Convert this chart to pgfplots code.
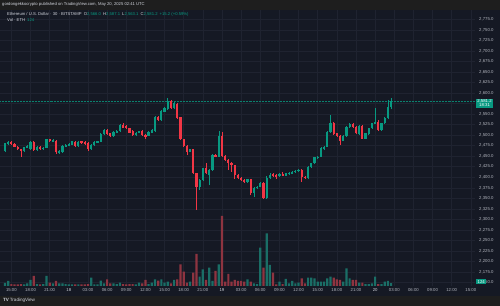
\documentclass[border=0pt]{standalone}
\usepackage{pgfplots}
\pgfplotsset{compat=1.18}
\usepackage{pgfplotstable}
\usepackage{fontspec}
\setmainfont{Liberation Sans}

\definecolor{bg}{HTML}{151924}
\definecolor{gridc}{HTML}{1F2330}
\definecolor{up}{HTML}{089981}
\definecolor{dn}{HTML}{F23645}
\definecolor{upv}{HTML}{1A6E66}
\definecolor{dnv}{HTML}{8E3440}
\definecolor{axtxt}{HTML}{B2B5BE}
\definecolor{lgtxt}{HTML}{D1D4DC}
\definecolor{strip}{HTML}{1E1E1E}

% ETH/USD 30-minute candles: index, open, high, low, close, volume (ETH)
\pgfplotstableread{
i o h l c v
0 2463 2482 2460 2481 135
1 2479 2485 2477 2483 225
6 2462 2472 2460 2471 77
7 2471 2476 2469 2474 122
8 2467 2486 2464 2484 270
10 2465 2475 2463 2473 90
12 2467 2472 2465 2470 90
13 2470 2492 2469 2490 450
15 2485 2490 2483 2488 122
17 2457 2464 2455 2462 122
18 2459 2476 2458 2474 122
19 2473 2479 2471 2477 90
20 2475 2481 2474 2479 68
21 2477 2487 2476 2485 68
23 2474 2485 2472 2483 68
27 2467 2479 2465 2477 374
28 2477 2485 2475 2483 77
29 2483 2487 2482 2485 77
30 2484 2505 2483 2503 239
31 2503 2514 2501 2512 122
34 2497 2509 2495 2507 122
35 2506 2512 2504 2510 90
36 2510 2526 2508 2524 149
41 2500 2508 2498 2506 77
42 2506 2511 2504 2509 149
45 2499 2510 2497 2508 90
46 2506 2514 2504 2512 149
47 2510 2546 2508 2544 302
49 2535 2560 2533 2558 302
50 2556 2566 2554 2564 149
51 2561 2587 2559 2580 194
53 2564 2578 2562 2576 270
58 2461 2468 2459 2466 194
61 2376 2395 2370 2393 419
62 2393 2423 2390 2421 752
64 2405 2419 2382 2417 824
65 2417 2455 2415 2453 225
67 2449 2510 2447 2498 977
76 2388 2397 2386 2395 302
78 2362 2376 2354 2374 122
79 2374 2380 2372 2378 90
80 2378 2388 2376 2386 1724
82 2350 2402 2348 2398 2372
83 2398 2410 2396 2405 945
86 2402 2410 2400 2407 194
88 2404 2411 2402 2409 315
89 2408 2412 2406 2410 122
90 2409 2415 2407 2413 225
91 2412 2418 2410 2416 122
92 2415 2420 2413 2418 149
95 2398 2427 2396 2425 374
96 2425 2435 2423 2433 374
97 2433 2449 2431 2447 347
98 2446 2451 2444 2449 194
99 2449 2471 2447 2469 194
100 2466 2475 2464 2473 194
101 2473 2510 2471 2508 347
102 2508 2548 2506 2528 419
106 2487 2500 2485 2498 194
107 2498 2522 2496 2520 797
108 2520 2528 2518 2526 347
111 2503 2524 2501 2522 149
113 2492 2506 2490 2504 90
114 2503 2518 2501 2516 90
115 2516 2530 2514 2528 122
116 2528 2564 2526 2532 419
118 2513 2530 2511 2528 90
119 2528 2542 2526 2540 194
120 2540 2583 2538 2566 225
121 2566.0 2587.1 2563.1 2581.2 124
}\uptab

\pgfplotstableread{
i o h l c v
2 2483 2485 2476 2478 90
3 2479 2481 2471 2473 77
4 2473 2475 2464 2466 77
5 2466 2468 2447 2462 90
9 2484 2486 2463 2465 450
11 2473 2475 2465 2467 77
14 2490 2492 2483 2485 149
16 2487 2489 2456 2459 225
22 2483 2485 2473 2475 68
24 2485 2487 2479 2481 68
25 2483 2485 2476 2478 68
26 2482 2484 2463 2466 90
32 2512 2514 2501 2503 302
33 2504 2506 2495 2497 122
37 2524 2528 2516 2518 90
38 2521 2523 2514 2516 77
39 2516 2518 2504 2506 90
40 2510 2512 2498 2500 90
43 2510 2512 2498 2500 122
44 2500 2502 2490 2498 270
48 2544 2546 2534 2536 239
52 2581 2583 2562 2564 122
54 2574 2577 2538 2540 302
55 2542 2544 2488 2490 977
56 2490 2492 2472 2474 644
57 2474 2476 2453 2461 149
59 2466 2468 2407 2409 599
60 2409 2411 2322 2376 1440
63 2421 2433 2407 2409 270
66 2453 2456 2447 2449 675
68 2498 2508 2448 2450 3150
69 2450 2452 2439 2441 194
70 2441 2443 2418 2434 540
71 2434 2436 2413 2428 194
72 2428 2430 2395 2405 270
73 2405 2407 2396 2398 225
74 2398 2400 2391 2393 225
75 2393 2395 2386 2388 194
77 2395 2397 2358 2362 194
81 2386 2388 2348 2350 824
84 2408 2410 2401 2403 599
85 2405 2408 2395 2402 77
87 2408 2412 2402 2404 90
93 2417 2420 2388 2401 347
94 2401 2404 2395 2398 122
103 2528 2531 2500 2502 374
104 2504 2506 2496 2498 302
105 2498 2500 2477 2487 270
109 2526 2528 2517 2519 270
110 2519 2521 2502 2504 270
112 2522 2524 2490 2492 149
117 2532 2535 2510 2512 90
}\dntab

\pgfplotsset{
  wick/.style={draw=none, no markers, forget plot,
    error bars/.cd, y dir=both, y explicit, error mark=none,
    error bar style={line width=0.55bp, draw=#1, solid}},
  body/.style={draw=none, no markers, forget plot,
    error bars/.cd, y dir=both, y explicit, error mark=none,
    error bar style={line width=2.2bp, draw=#1, solid}},
}

\begin{document}
\begin{tikzpicture}
\fill[bg] (0bp,0bp) rectangle (500bp,306bp);
\fill[strip] (0bp,296bp) rectangle (500bp,306bp);
\fill[strip] (0bp,0bp) rectangle (500bp,10bp);

% price pane
\begin{axis}[at={(0bp,20bp)}, anchor=south west, scale only axis,
  width=475bp, height=276bp,
  xmin=-1.57, xmax=147.3, ymin=2142, ymax=2797,
  axis line style={draw=none}, major tick length=0pt,
  xtick={2,8,...,146},
  xticklabels={15:00,18:00,21:00,\textcolor{lgtxt}{18},03:00,06:00,09:00,12:00,15:00,18:00,21:00,\textcolor{lgtxt}{19},03:00,06:00,09:00,12:00,15:00,18:00,21:00,\textcolor{lgtxt}{20},03:00,06:00,09:00,12:00,15:00},
  ytick={2150,2175,...,2550,2600,2625,...,2775},
  % the 2,575 level sits under the last-price tag: grid line only
  extra y ticks={2575}, extra y tick labels={},
  extra y tick style={grid=major},
  yticklabel pos=right,
  grid=major, major grid style={gridc, line width=0.5bp},
  ticklabel style={font=\fontsize{4.3}{5}\selectfont, text=axtxt},
  yticklabel style={anchor=west, inner sep=0pt, xshift=4bp},
  xticklabel style={anchor=north, inner sep=0pt, yshift=-2bp},
  /pgf/number format/.cd, fixed, fixed zerofill, precision=1,
  1000 sep={,}, assume math mode=true]
\addplot[up!80!bg, line width=0.5bp, densely dotted, forget plot] coordinates {(-2,2581.2) (148,2581.2)};
\addplot[wick=up] table[x=i, y expr={(\thisrow{h}+\thisrow{l})/2}, y error expr={(\thisrow{h}-\thisrow{l})/2}]{\uptab};
\addplot[wick=dn] table[x=i, y expr={(\thisrow{h}+\thisrow{l})/2}, y error expr={(\thisrow{h}-\thisrow{l})/2}]{\dntab};
\addplot[body=up] table[x=i, y expr={(\thisrow{o}+\thisrow{c})/2}, y error expr={max(abs(\thisrow{c}-\thisrow{o})/2,0.8)}]{\uptab};
\addplot[body=dn] table[x=i, y expr={(\thisrow{o}+\thisrow{c})/2}, y error expr={max(abs(\thisrow{c}-\thisrow{o})/2,0.8)}]{\dntab};
\coordinate (pl) at (axis cs:147.3,2581.2);
\end{axis}

% volume pane
\begin{axis}[at={(0bp,20bp)}, anchor=south west, scale only axis,
  width=475bp, height=276bp,
  xmin=-1.57, xmax=147.3, ymin=0, ymax=12420, hide axis]
\addplot[ybar, bar width=2.2bp, bar shift=0pt, fill=upv, draw=none] table[x=i, y=v]{\uptab};
\addplot[ybar, bar width=2.2bp, bar shift=0pt, fill=dnv, draw=none] table[x=i, y=v]{\dntab};
\coordinate (vl) at (axis cs:147.3,124);
\end{axis}

% last price and last volume tags
\node[fill=up, text=white, anchor=west, inner xsep=1.2bp, inner ysep=0.8bp, align=center,
  font=\fontsize{4.3}{4.6}\selectfont, xshift=1bp, yshift=-2.3bp] at (pl) {2,581.2\\18:31};
\node[fill=up, text=white, anchor=west, inner xsep=1.5bp, inner ysep=0.8bp,
  font=\fontsize{4.3}{5}\selectfont, xshift=1bp, yshift=1.5bp] at (vl) {124};

% header and legend
\node[anchor=west, text=lgtxt, font=\fontsize{4.2}{5}\selectfont, inner sep=0pt] at (2bp,301.5bp)
  {gordongekkocrypto published on TradingView.com, May 20, 2025 02:41 UTC};
\node[anchor=west, text=lgtxt, font=\fontsize{4.2}{5}\selectfont, inner sep=0pt] at (7bp,292bp)
  {Ethereum / U.S. Dollar · 30 · BITSTAMP\enspace O\textcolor{up}{2,566.0}\enspace H\textcolor{up}{2,587.1}\enspace L\textcolor{up}{2,563.1}\enspace C\textcolor{up}{2,581.2}\enspace \textcolor{up}{+15.2 (+0.59\%)}};
\node[anchor=west, text=lgtxt, font=\fontsize{4.2}{5}\selectfont, inner sep=0pt] at (7bp,286bp)
  {Vol · ETH\enspace \textcolor{up}{124}};

% footer logo
\node[anchor=west, text=lgtxt, font=\fontsize{4.6}{5}\selectfont, inner sep=0pt] at (3bp,5.5bp)
  {\textbf{TV}\,TradingView};

\pgfresetboundingbox
\path[use as bounding box] (0bp,0bp) rectangle (500bp,306bp);
\end{tikzpicture}
\end{document}
